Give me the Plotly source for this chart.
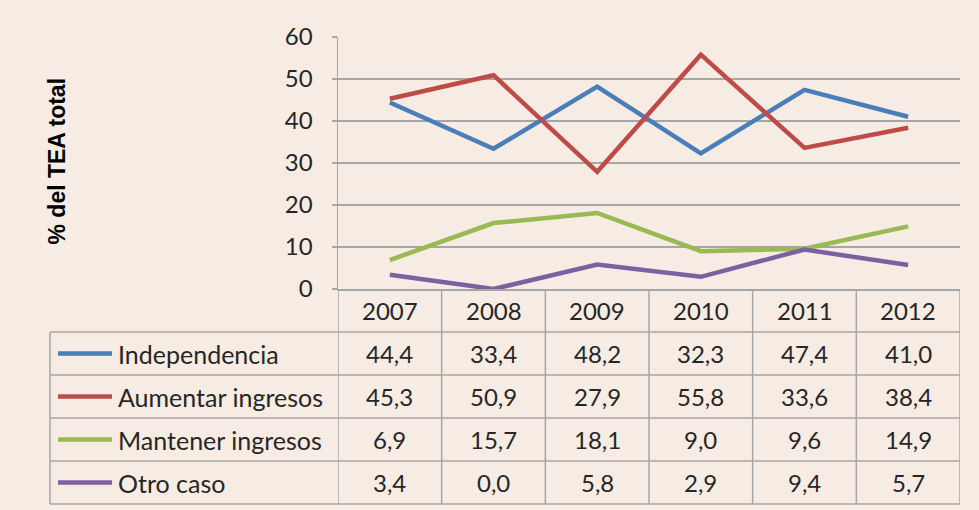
import plotly.graph_objects as go

years = ["2007", "2008", "2009", "2010", "2011", "2012"]
series_names = ["Independencia", "Aumentar ingresos", "Mantener ingresos", "Otro caso"]
independencia = [44.4, 33.4, 48.2, 32.3, 47.4, 41.0]
aumentar = [45.3, 50.9, 27.9, 55.8, 33.6, 38.4]
mantener = [6.9, 15.7, 18.1, 9.0, 9.6, 14.9]
otro = [3.4, 0.0, 5.8, 2.9, 9.4, 5.7]
y_ticks = [0, 10, 20, 30, 40, 50, 60]
y_title = "% del TEA total"

series_values = [independencia, aumentar, mantener, otro]
colors = ["#4A7EBB", "#BE4B48", "#98B954", "#7D60A0"]

W, H = 979, 510
BG = "#F6ECE3"
GRID = "#A6A6A6"
TXT = "#262626"
FONT = "Lato"
FS = 24

def px(x):
    return x / W

def py(y):
    return 1 - y / H

plot_left, plot_right = 338, 960
plot_top, plot_bottom = 37, 289
row_h = 43
rows_y = [plot_bottom + i * row_h for i in range(6)]  # 289,332,...,504
legend_left = 50

fig = go.Figure()
for name, vals, col in zip(series_names, series_values, colors):
    fig.add_trace(go.Scatter(
        x=list(range(len(years))), y=vals, name=name, mode="lines",
        line=dict(color=col, width=4.5), showlegend=False, hoverinfo="skip"))

shapes = []
annotations = []

# column boundaries in the table (through the x axis scale)
for i in range(len(years) + 1):
    shapes.append(dict(type="line", xref="x", yref="paper",
                       x0=i - 0.5, x1=i - 0.5,
                       y0=py(rows_y[0]), y1=py(rows_y[-1]),
                       line=dict(color=GRID, width=1.5), layer="below"))
# horizontal row lines
for r in rows_y[1:]:
    shapes.append(dict(type="line", xref="paper", yref="paper",
                       x0=px(legend_left), x1=px(plot_right),
                       y0=py(r), y1=py(r),
                       line=dict(color=GRID, width=1.5), layer="below"))
# legend column left border
shapes.append(dict(type="line", xref="paper", yref="paper",
                   x0=px(legend_left), x1=px(legend_left),
                   y0=py(rows_y[1]), y1=py(rows_y[-1]),
                   line=dict(color=GRID, width=1.5), layer="below"))

# header years
for i, yr in enumerate(years):
    annotations.append(dict(x=i, y=py((rows_y[0] + rows_y[1]) / 2), xref="x", yref="paper",
                            text=yr, showarrow=False, xanchor="center", yanchor="middle",
                            font=dict(family=FONT, size=FS, color=TXT)))

# rows
for k, (name, vals, col) in enumerate(zip(series_names, series_values, colors)):
    cy = (rows_y[k + 1] + rows_y[k + 2]) / 2
    shapes.append(dict(type="line", xref="paper", yref="paper",
                       x0=px(58), x1=px(112), y0=py(cy), y1=py(cy),
                       line=dict(color=col, width=4.5)))
    annotations.append(dict(x=px(116), y=py(cy), xref="paper", yref="paper",
                            text=name, showarrow=False, xanchor="left", yanchor="middle",
                            font=dict(family=FONT, size=25, color=TXT)))
    for i, v in enumerate(vals):
        annotations.append(dict(x=i, y=py(cy), xref="x", yref="paper",
                                text=f"{v:.1f}".replace(".", ","), showarrow=False,
                                xanchor="center", yanchor="middle",
                                font=dict(family=FONT, size=FS, color=TXT)))

# y axis title
annotations.append(dict(x=px(56), y=py(161.5), xref="paper", yref="paper",
                        text=f"<b>{y_title}</b>", showarrow=False, textangle=-90,
                        xanchor="center", yanchor="middle",
                        font=dict(family="Liberation Sans", size=23, color="#000000")))

fig.update_layout(
    width=W, height=H,
    margin=dict(l=0, r=0, t=0, b=0, pad=0),
    paper_bgcolor=BG, plot_bgcolor=BG,
    shapes=shapes, annotations=annotations,
    xaxis=dict(domain=[px(plot_left), px(plot_right)], range=[-0.5, len(years) - 0.5],
               showgrid=False, zeroline=False, showticklabels=False, automargin=False,
               showline=True, linecolor=GRID, linewidth=1.5, fixedrange=True),
    yaxis=dict(domain=[py(plot_bottom), py(plot_top)], range=[0, 60],
               tickvals=y_ticks, ticktext=[str(t) for t in y_ticks], automargin=False,
               showgrid=True, gridcolor=GRID, gridwidth=1.5, zeroline=False,
               showline=True, linecolor=GRID, linewidth=1.5,
               ticks="outside", ticklen=5, tickcolor=GRID, tickwidth=1.5,
               ticklabelstandoff=14,
               tickfont=dict(family=FONT, size=FS, color=TXT), fixedrange=True),
)

fig.write_html(
    "out.html",
    config={"displayModeBar": False, "staticPlot": True},
    post_script=(
        "document.documentElement.style.margin='0';"
        "document.body.style.margin='0';"
        "document.body.style.padding='0';"
        "document.body.style.overflow='hidden';"
        "document.body.style.background='" + BG + "';"
    ),
)
